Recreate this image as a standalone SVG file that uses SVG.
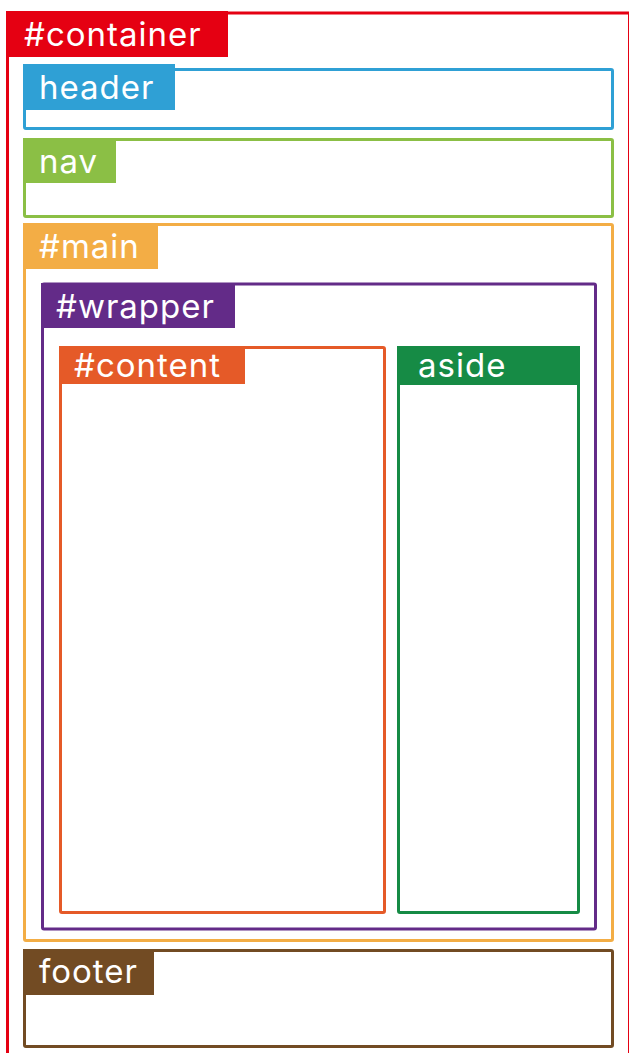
<svg xmlns="http://www.w3.org/2000/svg" width="629" height="1053" viewBox="0 0 629 1053">
<style>
.box{fill:none;stroke-width:3;}
.lbl{font-family:Inter,"Noto Sans","Liberation Sans",sans-serif;font-size:33px;letter-spacing:1px;fill:#ffffff;}
</style>
<rect x="0" y="0" width="629" height="1053" fill="#ffffff"/>
<g id="container">
<rect class="box" x="7.5" y="13" width="622" height="1060" stroke="#e50012"/>
<rect x="6" y="11" width="222" height="46" fill="#e50012"/>
<text class="lbl" x="24" y="46">#container</text>
</g>
<g id="header">
<rect class="box" x="24.5" y="69.5" width="588" height="59" rx="1.5" stroke="#2fa0d5"/>
<rect x="23" y="64" width="152" height="46" fill="#2fa0d5"/>
<text class="lbl" x="39" y="99">header</text>
</g>
<g id="nav">
<rect class="box" x="24.5" y="139.5" width="588" height="77" rx="1.5" stroke="#8bbf45"/>
<rect x="23" y="138" width="93" height="45" fill="#8bbf45"/>
<text class="lbl" x="39" y="173">nav</text>
</g>
<g id="main">
<rect class="box" x="24.5" y="224.5" width="588" height="716" rx="1.5" stroke="#f3ad45"/>
<rect x="23" y="223" width="135" height="46" fill="#f3ad45"/>
<text class="lbl" x="39" y="258">#main</text>
</g>
<g id="wrapper">
<rect class="box" x="42.5" y="284" width="553" height="645" rx="1.5" stroke="#632b88"/>
<rect x="41" y="283" width="194" height="45" fill="#632b88"/>
<text class="lbl" x="56" y="318">#wrapper</text>
</g>
<g id="content">
<rect class="box" x="60.5" y="347.5" width="324" height="565" rx="1.5" stroke="#e55a28"/>
<rect x="59" y="346" width="186" height="38" fill="#e55a28"/>
<text class="lbl" x="74" y="377">#content</text>
</g>
<g id="aside">
<rect class="box" x="398.5" y="347.5" width="180" height="565" rx="1.5" stroke="#168b45"/>
<rect x="397" y="346" width="183" height="39" fill="#168b45"/>
<text class="lbl" x="418" y="377">aside</text>
</g>
<g id="footer">
<rect class="box" x="24.5" y="950.5" width="588" height="96" rx="1.5" stroke="#724b23"/>
<rect x="23" y="949" width="131" height="46" fill="#724b23"/>
<text class="lbl" x="39" y="983">footer</text>
</g>
<g id="connectors"></g>
</svg>
